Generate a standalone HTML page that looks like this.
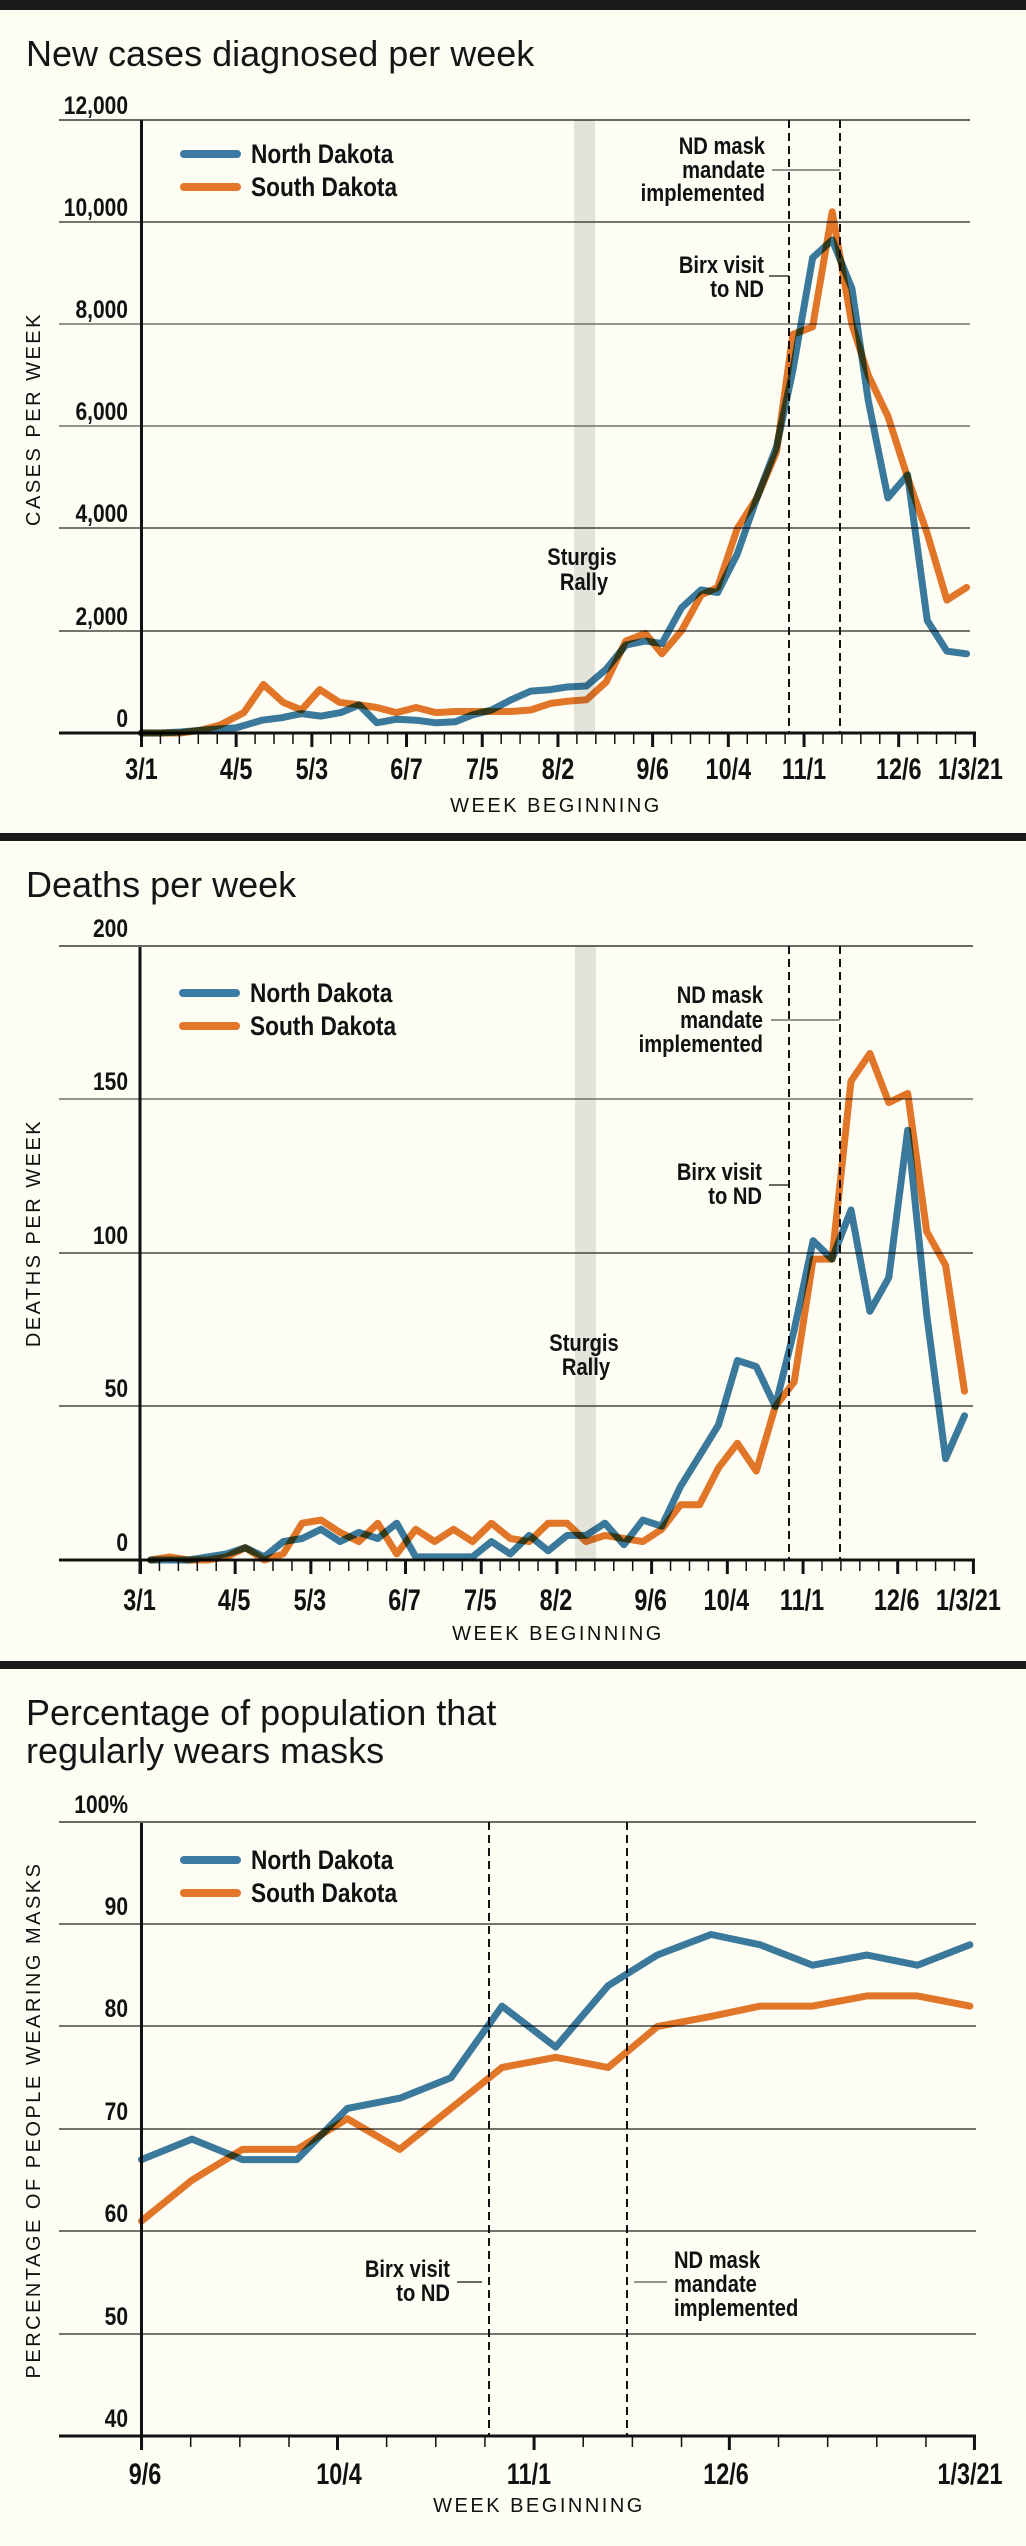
<!DOCTYPE html>
<html><head><meta charset="utf-8">
<style>
html,body{margin:0;padding:0;background:#fefdf3;}
svg{display:block;}
.t{font-family:"Liberation Sans",sans-serif;font-size:36px;fill:#151515;}
.yl{font-family:"Liberation Sans",sans-serif;font-weight:bold;font-size:25px;fill:#111;text-anchor:end;}
.xl{font-family:"Liberation Sans",sans-serif;font-weight:bold;font-size:30px;fill:#111;text-anchor:middle;}
.ax{font-family:"Liberation Sans",sans-serif;font-size:20px;letter-spacing:2.5px;fill:#111;text-anchor:middle;}
.an{font-family:"Liberation Sans",sans-serif;font-weight:bold;font-size:24px;fill:#111;}
.lg{font-family:"Liberation Sans",sans-serif;font-weight:bold;font-size:27px;fill:#111;}
.nd{fill:none;stroke:#3a7aa3;stroke-width:7;stroke-linejoin:round;stroke-linecap:round;mix-blend-mode:multiply;}
.sd{fill:none;stroke:#e2772a;stroke-width:7;stroke-linejoin:round;stroke-linecap:round;mix-blend-mode:multiply;}
.g{stroke:#222;stroke-width:1.3;}
.d{stroke:#111;stroke-width:2;stroke-dasharray:8 5;}
</style></head>
<body>
<svg id="s" width="1026" height="2546" viewBox="0 0 1026 2546" xmlns="http://www.w3.org/2000/svg">
<rect width="1026" height="2546" fill="#fefdf3"/>
<rect x="0" y="0" width="1026" height="10" fill="#1a1a1a"/>
<rect x="0" y="833" width="1026" height="8" fill="#1a1a1a"/>
<rect x="0" y="1661" width="1026" height="8" fill="#1a1a1a"/>

<!-- Chart 1 -->
<text class="t" x="26" y="66">New cases diagnosed per week</text>
<rect x="574" y="120" width="21" height="613" fill="#e4e3da"/>
<g class="g">
<line x1="59" y1="120" x2="970" y2="120" stroke="#111"/>
<line x1="59" y1="222" x2="970" y2="222"/>
<line x1="59" y1="324" x2="970" y2="324" stroke="#555"/>
<line x1="59" y1="426" x2="970" y2="426" stroke="#555"/>
<line x1="59" y1="528" x2="970" y2="528"/>
<line x1="59" y1="631" x2="970" y2="631"/>
</g>
<text class="yl" x="128" y="114">12,000</text>
<text class="yl" x="128" y="216">10,000</text>
<text class="yl" x="128" y="318">8,000</text>
<text class="yl" x="128" y="420">6,000</text>
<text class="yl" x="128" y="522">4,000</text>
<text class="yl" x="128" y="625">2,000</text>
<text class="yl" x="128" y="727">0</text>
<line class="d" x1="789" y1="120" x2="789" y2="733"/>
<line class="d" x1="840" y1="120" x2="840" y2="733"/>
<line x1="772" y1="170" x2="840" y2="170" stroke="#555" stroke-width="1.3"/>
<line x1="769" y1="276" x2="789" y2="276" stroke="#111" stroke-width="1.3"/>
<text class="an" x="765" y="154" text-anchor="end">ND mask</text>
<text class="an" x="765" y="178" text-anchor="end">mandate</text>
<text class="an" x="765" y="201" text-anchor="end">implemented</text>
<text class="an" x="764" y="273" text-anchor="end">Birx visit</text>
<text class="an" x="764" y="297" text-anchor="end">to ND</text>
<text class="an" x="582" y="565" text-anchor="middle">Sturgis</text>
<text class="an" x="584" y="590" text-anchor="middle">Rally</text>
<line x1="184" y1="154" x2="237" y2="154" stroke="#3a7aa3" stroke-width="8" stroke-linecap="round"/>
<line x1="184" y1="187" x2="237" y2="187" stroke="#e2772a" stroke-width="8" stroke-linecap="round"/>
<text class="lg" x="251" y="163">North Dakota</text>
<text class="lg" x="251" y="196">South Dakota</text>
<g id="c1"></g>
<text class="ax" x="556" y="812">WEEK BEGINNING</text>
<text class="ax" transform="translate(40,419) rotate(-90)">CASES PER WEEK</text>

<!-- Chart 2 -->
<text class="t" x="26" y="897">Deaths per week</text>
<rect x="575" y="946" width="21" height="614" fill="#e4e3da"/>
<g class="g">
<line x1="59" y1="946" x2="973" y2="946" stroke="#111"/>
<line x1="59" y1="1099" x2="973" y2="1099" stroke="#555"/>
<line x1="59" y1="1253" x2="973" y2="1253"/>
<line x1="59" y1="1406" x2="973" y2="1406"/>
</g>
<text class="yl" x="128" y="937">200</text>
<text class="yl" x="128" y="1090">150</text>
<text class="yl" x="128" y="1244">100</text>
<text class="yl" x="128" y="1397">50</text>
<text class="yl" x="128" y="1551">0</text>
<line class="d" x1="789" y1="946" x2="789" y2="1560"/>
<line class="d" x1="840" y1="946" x2="840" y2="1560"/>
<line x1="771" y1="1020" x2="840" y2="1020" stroke="#555" stroke-width="1.3"/>
<line x1="769" y1="1185" x2="789" y2="1185" stroke="#111" stroke-width="1.3"/>
<text class="an" x="763" y="1003" text-anchor="end">ND mask</text>
<text class="an" x="763" y="1028" text-anchor="end">mandate</text>
<text class="an" x="763" y="1052" text-anchor="end">implemented</text>
<text class="an" x="762" y="1180" text-anchor="end">Birx visit</text>
<text class="an" x="762" y="1204" text-anchor="end">to ND</text>
<text class="an" x="584" y="1351" text-anchor="middle">Sturgis</text>
<text class="an" x="586" y="1375" text-anchor="middle">Rally</text>
<line x1="183" y1="993" x2="236" y2="993" stroke="#3a7aa3" stroke-width="8" stroke-linecap="round"/>
<line x1="183" y1="1026" x2="236" y2="1026" stroke="#e2772a" stroke-width="8" stroke-linecap="round"/>
<text class="lg" x="250" y="1002">North Dakota</text>
<text class="lg" x="250" y="1035">South Dakota</text>
<g id="c2"></g>
<text class="ax" x="558" y="1640">WEEK BEGINNING</text>
<text class="ax" transform="translate(40,1233) rotate(-90)">DEATHS PER WEEK</text>

<!-- Chart 3 -->
<text class="t" x="26" y="1725">Percentage of population that</text>
<text class="t" x="26" y="1763">regularly wears masks</text>
<g class="g">
<line x1="59" y1="1822" x2="976" y2="1822" stroke="#111"/>
<line x1="59" y1="1924" x2="976" y2="1924"/>
<line x1="59" y1="2026" x2="976" y2="2026"/>
<line x1="59" y1="2129" x2="976" y2="2129"/>
<line x1="59" y1="2231" x2="976" y2="2231"/>
<line x1="59" y1="2334" x2="976" y2="2334"/>
</g>
<text class="yl" x="128" y="1813">100%</text>
<text class="yl" x="128" y="1915">90</text>
<text class="yl" x="128" y="2017">80</text>
<text class="yl" x="128" y="2120">70</text>
<text class="yl" x="128" y="2222">60</text>
<text class="yl" x="128" y="2325">50</text>
<text class="yl" x="128" y="2427">40</text>
<line class="d" x1="489" y1="1822" x2="489" y2="2436"/>
<line class="d" x1="627" y1="1822" x2="627" y2="2436"/>
<line x1="457" y1="2282" x2="482" y2="2282" stroke="#111" stroke-width="1.3"/>
<line x1="634" y1="2282" x2="667" y2="2282" stroke="#555" stroke-width="1.3"/>
<text class="an" x="450" y="2277" text-anchor="end">Birx visit</text>
<text class="an" x="450" y="2301" text-anchor="end">to ND</text>
<text class="an" x="674" y="2268">ND mask</text>
<text class="an" x="674" y="2292">mandate</text>
<text class="an" x="674" y="2316">implemented</text>
<line x1="184" y1="1860" x2="237" y2="1860" stroke="#3a7aa3" stroke-width="8" stroke-linecap="round"/>
<line x1="184" y1="1893" x2="237" y2="1893" stroke="#e2772a" stroke-width="8" stroke-linecap="round"/>
<text class="lg" x="251" y="1869">North Dakota</text>
<text class="lg" x="251" y="1902">South Dakota</text>
<g id="c3"></g>
<text class="ax" x="539" y="2512">WEEK BEGINNING</text>
<text class="ax" transform="translate(40,2120) rotate(-90)">PERCENTAGE OF PEOPLE WEARING MASKS</text>
</svg>
<script>
var NS="http://www.w3.org/2000/svg",K=1.526;
function el(g,n,a){var e=document.createElementNS(NS,n);for(var k in a)e.setAttribute(k,a[k]);g.appendChild(e);return e;}
function poly(g,pts,fx,fy,cls){el(g,"polyline",{points:pts.map(function(p){return (p[0]/K).toFixed(1)+","+fy(p[1]).toFixed(1)}).join(" "),"class":cls});}
function axis(g,y,x0,x1,ticks,majors,labels,ly){
 el(g,"line",{x1:59,y1:y,x2:x1+2,y2:y,stroke:"#111","stroke-width":3});
 el(g,"line",{x1:x0,y1:y-613,x2:x0,y2:y+14,stroke:"#111","stroke-width":3});
 ticks.forEach(function(x,i){var m=majors.indexOf(i)>=0;el(g,"line",{x1:x,y1:y,x2:x,y2:y+(m?14:11),stroke:"#111","stroke-width":m?3:1.5});});
 labels.forEach(function(l){var t=el(g,"text",{x:l[0],y:ly,"class":"xl"});t.textContent=l[1];});
}
var g1=document.getElementById("c1");
var nd1=[[216,0],[245,0],[275,.02],[305,.05],[335,.08],[360,.1],[400,.25],[430,.3],[460,.38],[490,.33],[520,.4],[548,.55],[575,.2],[605,.27],[635,.25],[665,.2],[695,.22],[720,.35],[750,.45],[780,.65],[810,.82],[840,.85],[865,.9],[895,.92],[925,1.25],[955,1.72],[985,1.8],[1010,1.75],[1040,2.45],[1070,2.8],[1095,2.75],[1125,3.5],[1155,4.6],[1185,5.6],[1210,7.1],[1240,9.3],[1270,9.65],[1300,8.7],[1325,6.5],[1355,4.6],[1385,5.05],[1415,2.2],[1445,1.6],[1475,1.55]];
var sd1=[[216,0],[245,0],[275,0],[305,.05],[335,.15],[372,.4],[402,.95],[432,.6],[460,.45],[488,.85],[518,.6],[548,.55],[575,.5],[605,.4],[635,.5],[665,.4],[695,.42],[720,.42],[750,.42],[780,.42],[810,.45],[840,.58],[865,.62],[895,.65],[925,1.0],[955,1.8],[985,1.95],[1010,1.55],[1040,2.0],[1070,2.7],[1095,2.85],[1125,4.0],[1155,4.6],[1185,5.5],[1210,7.8],[1240,7.95],[1270,10.2],[1300,8.0],[1325,7.0],[1355,6.2],[1385,5.0],[1415,3.9],[1445,2.6],[1475,2.85]];
var t1=[];for(var i=0;i<=44;i++)t1.push(141.5+i*18.93);
var mj=[0,5,9,14,18,22,27,31,35,40,44];
var lb=["3/1","4/5","5/3","6/7","7/5","8/2","9/6","10/4","11/1","12/6","1/3/21"];
axis(g1,733,141.5,974,t1,mj,mj.map(function(m,j){return [t1[m]+(j==10?-4:0),lb[j]]}),779);
poly(g1,sd1,0,function(v){return 733-v*51.1},"sd");
poly(g1,nd1,0,function(v){return 733-v*51.1},"nd");
var g2=document.getElementById("c2");
var nd2=[0,0,0,1,2,4,1,6,7,10,6,9,7,12,1,1,1,1,6,2,8,3,8,8,12,5,13,11,24,34,44,65,63,50,75,104,98,114,81,92,140,80,33,47];
var sd2=[0,1,0,0,1,4,0,2,12,13,9,6,12,2,10,6,10,6,12,7,6,12,12,6,8,7,6,10,18,18,30,38,29,50,58,98,98,156,165,149,152,107,96,55];
function xs(a){return a.map(function(v,i){return [(230+i*28.88),v]});}
axis(g2,1560,140,973,t1.map(function(x){return x-1}),mj,mj.map(function(m,j){return [t1[m]-2+(j==10?-4:0),lb[j]]}),1610);
poly(g2,xs(sd2),0,function(v){return 1560-v*3.07},"sd");
poly(g2,xs(nd2),0,function(v){return 1560-v*3.07},"nd");
var g3=document.getElementById("c3");
var X3=[216,293,370,453,530,610,688,766,848,928,1003,1085,1160,1240,1323,1400,1480];
var nd3=[67,69,67,67,72,73,75,82,78,84,87,89,88,86,87,86,88];
var sd3=[61,65,68,68,71,68,72,76,77,76,80,81,82,82,83,83,82];
var tz=[216,291,366,441,515,590,665,740,815,890,965,1040,1113,1188,1263,1338,1413,1487].map(function(x){return x/K});
axis(g3,2436,141.5,974,tz,[0,4,8,12,17],[[145,"9/6"],[339,"10/4"],[529,"11/1"],[726,"12/6"],[970,"1/3/21"]],2484);
function f3(v){return 1822+(100-v)*10.23}
poly(g3,X3.map(function(x,i){return [x,sd3[i]]}),0,f3,"sd");
poly(g3,X3.map(function(x,i){return [x,nd3[i]]}),0,f3,"nd");
// condense bold labels horizontally
var all=document.querySelectorAll("text.yl,text.xl,text.an,text.lg");
for(var j=0;j<all.length;j++){var t=all[j],x=+t.getAttribute("x"),y=+t.getAttribute("y");
 var sc=t.getAttribute("class")=="xl"?0.78:0.84;
 t.setAttribute("transform","translate("+x+" "+y+") scale("+sc+" 1) translate("+(-x)+" "+(-y)+")");}
</script>
</body></html>
